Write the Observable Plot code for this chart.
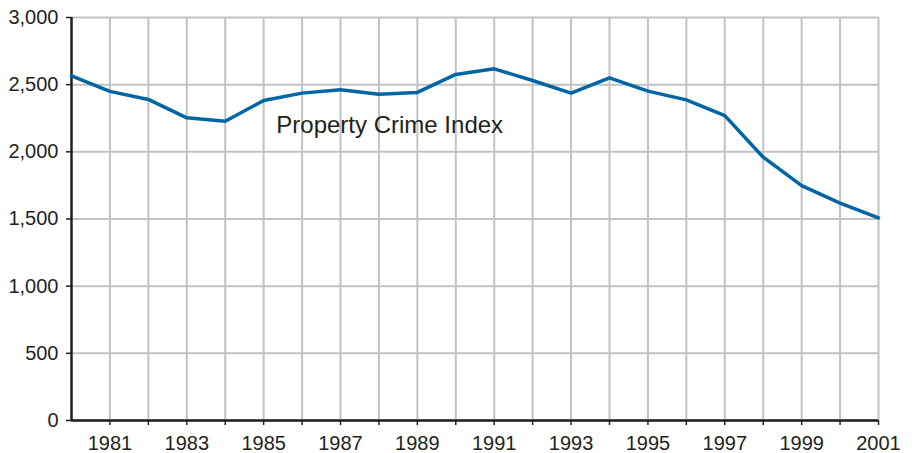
<!DOCTYPE html>
<html>
<head>
<meta charset="utf-8">
<script src="https://cdn.jsdelivr.net/npm/d3@7"></script>
<script src="https://cdn.jsdelivr.net/npm/@observablehq/plot@0.6"></script>
<style>
  html, body { margin: 0; padding: 0; background: #fff; }
  svg { font-family: "Liberation Sans", Arial, sans-serif; }
</style>
</head>
<body>
<div id="chart"></div>
<script>
const years = [1980,1981,1982,1983,1984,1985,1986,1987,1988,1989,1990,1991,1992,1993,1994,1995,1996,1997,1998,1999,2000,2001];
const index = [2565,2450,2390,2253,2228,2382,2437,2462,2429,2442,2576,2618,2531,2437,2551,2452,2387,2270,1960,1749,1618,1509];
const yTicks = [0,500,1000,1500,2000,2500,3000];
const seriesLabel = "Property Crime Index";

const data = years.map((y, i) => ({year: y, value: index[i]}));

const chart = Plot.plot({
  width: 916,
  height: 453,
  marginLeft: 71,
  marginRight: 38,
  marginTop: 17,
  marginBottom: 33,
  style: {fontFamily: "Liberation Sans, Arial, sans-serif", color: "#231f20", background: "#fff"},
  x: {domain: [1980, 2001]},
  y: {domain: [0, 3000]},
  marks: [
    Plot.gridY(yTicks, {stroke: "#c2c2c6", strokeOpacity: 1, strokeWidth: 2}),
    Plot.gridX(years.slice(1), {stroke: "#c2c2c6", strokeOpacity: 1, strokeWidth: 2}),
    Plot.axisY(yTicks, {tickFormat: d3.format(","), tickSize: 5, tickPadding: 8, fontSize: 20, stroke: "#231f20", strokeWidth: 1.5, label: null}),
    Plot.axisX(years.slice(1), {tickFormat: d => d % 2 ? String(d) : "", tickSize: 5, tickPadding: 10, fontSize: 20, stroke: "#231f20", strokeWidth: 1.5, label: null}),
    Plot.ruleY([0], {stroke: "#231f20", strokeWidth: 2.5}),
    Plot.ruleX([1980], {stroke: "#231f20", strokeWidth: 2.5}),
    Plot.line(data, {x: "year", y: "value", stroke: "#0065a4", strokeWidth: 3.5}),
    Plot.text([seriesLabel], {x: 1985.33, y: 2196, text: d => d, textAnchor: "start", fontSize: 24, fill: "#231f20"})
  ]
});
document.getElementById("chart").append(chart);
</script>
</body>
</html>
